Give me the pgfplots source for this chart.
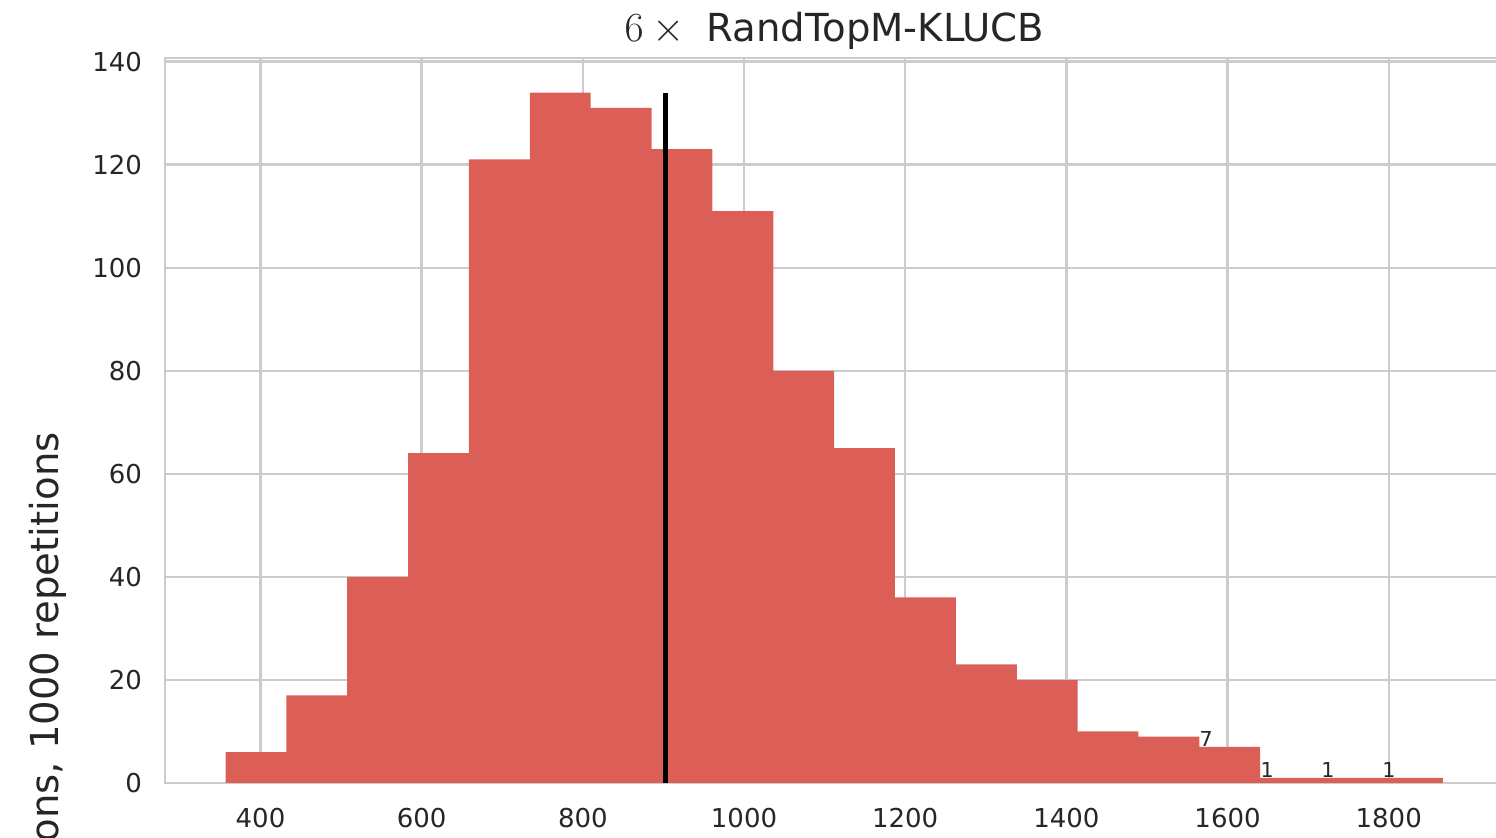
\documentclass[border=0pt]{standalone}
\usepackage[no-math]{fontspec}
\setmainfont{DejaVu Sans}
\usepackage{pgfplots}
\pgfplotsset{compat=1.18}
\definecolor{barred}{RGB}{220,95,87}
\definecolor{gridgray}{RGB}{204,204,204}
\definecolor{txt}{RGB}{38,38,38}

\begin{document}
\begin{tikzpicture}
% the reference is cropped on the left, right and bottom
\path[use as bounding box, clip] (-82.5pt,-27.5pt) rectangle (665.5pt,391.5pt);
\begin{axis}[
    at={(0,0)}, anchor=south west,
    width=669.5pt, height=362.5pt, scale only axis,
    xmin=281.5, xmax=1943, ymin=0, ymax=140.7,
    xtick={400,600,...,1800}, ytick={0,20,...,140},
    grid=major,
    major grid style={gridgray, line width=1.2pt},
    axis line style={gridgray, line width=1.2pt},
    major tick length=0pt,
    tick label style={font=\fontsize{13}{15}\selectfont, text=txt},
    /pgf/number format/assume math mode=true,
    /pgf/number format/1000 sep={},
    xticklabel shift=9pt, yticklabel shift=8pt,
    title={$6\mathbin{\times}{}$ RandTopM-KLUCB},
    title style={at={(0.5,1)}, anchor=base, yshift=2pt,
      font=\fontsize{19.3}{22}\selectfont, text=txt},
    ylabel={Number of observations, 1000 repetitions},
    every axis y label/.style={at={(axis description cs:-0.0792,0.4841)},
      rotate=90, anchor=base east, inner sep=0pt,
      font=\fontsize{19.3}{22}\selectfont, text=txt},
  ]
  \addplot[ybar interval, fill=barred, draw=none] coordinates {
      (356.6,6) (432.1,17) (507.6,40) (583.2,64) (658.7,121) (734.2,134)
      (809.7,131) (885.2,123) (960.8,111) (1036.3,80) (1111.8,65)
      (1187.3,36) (1262.8,23) (1338.4,20) (1413.9,10) (1489.4,9)
      (1564.9,7) (1640.4,1) (1716.0,1) (1791.5,1) (1867.0,1)
    };
  \addplot[black, line width=2.5pt] coordinates {(902.7,0) (902.7,134)};

  \begin{scope}[every node/.style={anchor=base west, inner sep=0pt,
        font=\fontsize{10.3}{12}\selectfont, text=txt}]
    \node at (axis cs:1564.9,7) {7};
    \node at (axis cs:1640.4,1) {1};
    \node at (axis cs:1716.0,1) {1};
    \node at (axis cs:1791.5,1) {1};
  \end{scope}
\end{axis}
\end{tikzpicture}
\end{document}
